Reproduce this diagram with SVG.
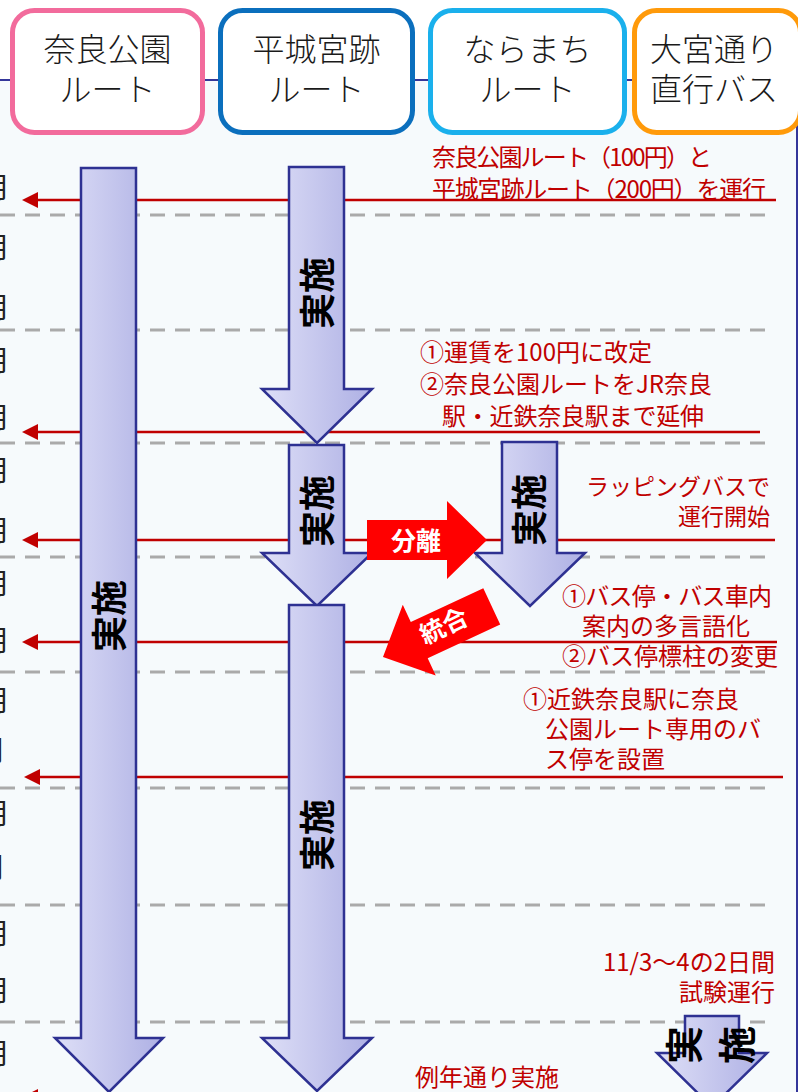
<svg xmlns="http://www.w3.org/2000/svg" width="798" height="1092" viewBox="0 0 798 1092">
<defs>
<style>
.hdr{font-family:"Noto Sans CJK JP","Noto Sans",sans-serif;font-size:32px;font-weight:300;fill:#1a1a1a;text-anchor:middle}
.box{fill:#fff;stroke-width:5}
.mon{font-family:"Noto Sans CJK JP",sans-serif;font-size:28px;fill:#222}
.lbl{font-family:"Noto Sans CJK JP","Noto Sans",sans-serif;font-size:24px;fill:#c00000}
.dash{stroke:#aaaaaa;stroke-width:3;stroke-dasharray:15 10;fill:none}
.rl{stroke:#c00000;stroke-width:2.5;fill:none}
.blk{fill:url(#bg);stroke:#2e3192;stroke-width:2.5;stroke-linejoin:miter}
.jt{font-family:"Noto Sans CJK JP",sans-serif;font-size:36px;font-weight:bold;fill:#000;text-anchor:middle;dominant-baseline:central}
.rt{font-family:"Noto Sans CJK JP",sans-serif;font-size:25px;font-weight:bold;fill:#fff;text-anchor:middle;dominant-baseline:central}
</style>
<linearGradient id="bg" x1="0" y1="0" x2="1" y2="0">
<stop offset="0" stop-color="#dedff7"/>
<stop offset="1" stop-color="#aeb0e4"/>
</linearGradient>
<marker id="ah" markerUnits="userSpaceOnUse" markerWidth="16" markerHeight="16" refX="0" refY="8" orient="auto" viewBox="0 0 16 16">
<path d="M0,0 L16,8 L0,16 Z" fill="#c00000"/>
</marker>
</defs>
<rect x="0" y="0" width="798" height="1092" fill="#ffffff"/>
<rect x="-2" y="80" width="799" height="1030" fill="#f6fafc" stroke="#34369a" stroke-width="2"/>

<g id="months">
<text class="mon" x="-18" y="198">月</text>
<text class="mon" x="-18" y="258">月</text>
<text class="mon" x="-18" y="318">月</text>
<text class="mon" x="-18" y="371">月</text>
<text class="mon" x="-18" y="428">月</text>
<text class="mon" x="-18" y="481">月</text>
<text class="mon" x="-18" y="541">月</text>
<text class="mon" x="-18" y="594">月</text>
<text class="mon" x="-18" y="651">月</text>
<text class="mon" x="-18" y="711">月</text>
<text class="mon" x="-22" y="761" fill="#999">月</text>
<text class="mon" x="-18" y="824">月</text>
<text class="mon" x="-22" y="878" fill="#999">月</text>
<text class="mon" x="-18" y="944">月</text>
<text class="mon" x="-18" y="1001">月</text>
<text class="mon" x="-18" y="1064">月</text>
</g>

<g id="grid">
<line class="dash" x1="0" y1="215" x2="765" y2="215"/>
<line class="dash" x1="0" y1="330" x2="765" y2="330"/>
<line class="dash" x1="0" y1="443" x2="765" y2="443"/>
<line class="dash" x1="0" y1="557" x2="765" y2="557"/>
<line class="dash" x1="0" y1="672" x2="765" y2="672"/>
<line class="dash" x1="0" y1="788" x2="765" y2="788"/>
<line class="dash" x1="0" y1="905" x2="765" y2="905"/>
<line class="dash" x1="0" y1="1022" x2="765" y2="1022"/>
</g>

<g id="connectors">
<line class="rl" x1="776" y1="200" x2="38" y2="200" marker-end="url(#ah)"/>
<line class="rl" x1="760" y1="432" x2="38" y2="432" marker-end="url(#ah)"/>
<line class="rl" x1="775" y1="540" x2="38" y2="540" marker-end="url(#ah)"/>
<line class="rl" x1="777" y1="642" x2="38" y2="642" marker-end="url(#ah)"/>
<line class="rl" x1="783" y1="777" x2="40" y2="777" marker-end="url(#ah)"/>
<line class="rl" x1="800" y1="1097" x2="38" y2="1097" marker-end="url(#ah)"/>
</g>

<g id="header">
<g id="box-nara-park">
<rect class="box" x="12.5" y="10.5" width="190" height="122" rx="22" stroke="#f26b9c"/>
<text class="hdr" x="107.5" y="61">奈良公園</text>
<text class="hdr" x="107.5" y="101">ルート</text>
</g>
<g id="box-heijo">
<rect class="box" x="220.5" y="10.5" width="192" height="122" rx="22" stroke="#0b6fbd"/>
<text class="hdr" x="316.5" y="61">平城宮跡</text>
<text class="hdr" x="316.5" y="101">ルート</text>
</g>
<g id="box-naramachi">
<rect class="box" x="430.5" y="10.5" width="194" height="122" rx="22" stroke="#1ab0ec"/>
<text class="hdr" x="527.5" y="61">ならまち</text>
<text class="hdr" x="527.5" y="101">ルート</text>
</g>
<g id="box-omiya">
<rect class="box" x="634.5" y="10.5" width="166" height="122" rx="22" stroke="#ff9a0a"/>
<text class="hdr" x="714" y="61">大宮通り</text>
<text class="hdr" x="714" y="101">直行バス</text>
</g>
</g>

<g id="arrow-nara-park">
<path class="blk" d="M81,168 H136 V1038 H163 L109,1092 L55,1038 H81 Z"/>
<text class="jt" transform="translate(107,616) rotate(-90)">実施</text>
</g>
<g id="arrow-heijo-1">
<path class="blk" d="M289,167 H344 V389 H372 L317,443 L262,389 H289 Z"/>
<text class="jt" transform="translate(315,293) rotate(-90)">実施</text>
</g>
<g id="arrow-heijo-2">
<path class="blk" d="M289,445 H344 V553 H372 L317,606 L262,553 H289 Z"/>
<text class="jt" transform="translate(315,511) rotate(-90)">実施</text>
</g>
<g id="arrow-heijo-3">
<path class="blk" d="M289,605 H344 V1038 H372 L317,1091 L262,1038 H289 Z"/>
<text class="jt" transform="translate(315,835) rotate(-90)">実施</text>
</g>
<g id="arrow-naramachi">
<path class="blk" d="M502,442 H557 V553 H585 L530,606 L475,553 H502 Z"/>
<text class="jt" transform="translate(527,510) rotate(-90)">実施</text>
</g>
<g id="arrow-omiya">
<path class="blk" d="M685,1016 H739 V1053 H767 L712,1107 L657,1053 H685 Z"/>
<text class="jt" style="font-size:38px" transform="translate(681,1045) rotate(-90)">実</text>
<text class="jt" style="font-size:38px" transform="translate(734,1045) rotate(-90)">施</text>
</g>

<g id="arrow-bunri">
<path d="M0,0 L-40,-39 V-20 H-120 V20 H-40 V39 Z" fill="#ff0000" transform="translate(487,540)"/>
<text class="rt" x="416" y="539">分離</text>
</g>
<g id="arrow-togo">
<path d="M0,0 L-40,-39 V-20 H-120 V20 H-40 V39 Z" fill="#ff0000" transform="translate(383,657) rotate(155)"/>
<text class="rt" transform="translate(443,624) rotate(-26)">統合</text>
</g>

<g id="labels">
<text class="lbl" x="432" y="166" textLength="280" lengthAdjust="spacing">奈良公園ルート（100円）と</text>
<text class="lbl" x="432" y="198" textLength="334" lengthAdjust="spacing">平城宮跡ルート（200円）を運行</text>
<text class="lbl" x="420" y="361">①運賃を100円に改定</text>
<text class="lbl" x="420" y="393">②奈良公園ルートをJR奈良</text>
<text class="lbl" x="442" y="425" textLength="262" lengthAdjust="spacing">駅・近鉄奈良駅まで延伸</text>
<text class="lbl" x="770" y="495" text-anchor="end" style="font-size:23px">ラッピングバスで</text>
<text class="lbl" x="770" y="525" text-anchor="end" style="font-size:23px">運行開始</text>
<text class="lbl" x="562" y="605" textLength="210" lengthAdjust="spacing">①バス停・バス車内</text>
<text class="lbl" x="582" y="635">案内の多言語化</text>
<text class="lbl" x="562" y="665">②バス停標柱の変更</text>
<text class="lbl" x="523" y="708">①近鉄奈良駅に奈良</text>
<text class="lbl" x="545" y="738">公園ルート専用のバ</text>
<text class="lbl" x="545" y="768">ス停を設置</text>
<text class="lbl" x="775" y="971" text-anchor="end">11/3～4の2日間</text>
<text class="lbl" x="775" y="1001" text-anchor="end">試験運行</text>
<text class="lbl" x="415" y="1086">例年通り実施</text>
</g>
</svg>
